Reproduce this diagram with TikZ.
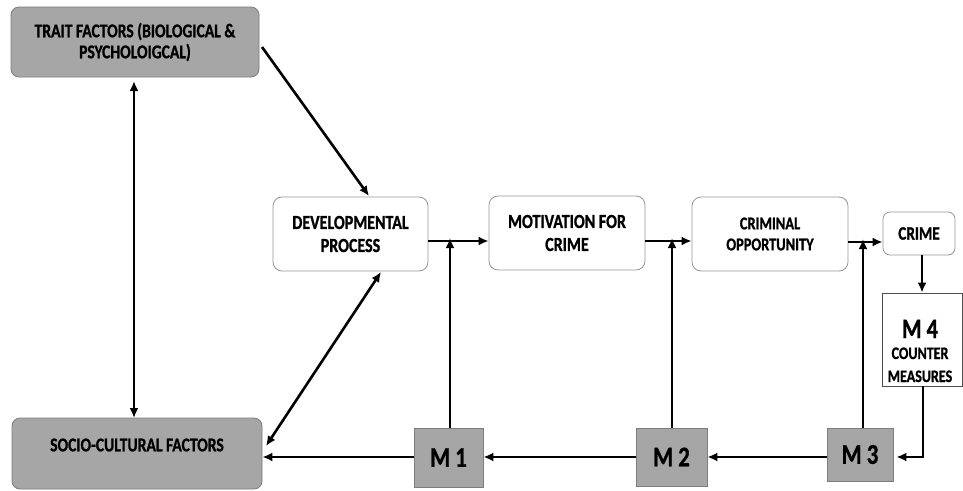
\documentclass[tikz,border=0pt]{standalone}
\usepackage{fontspec}
\setmainfont{Carlito}[BoldFont={Carlito Bold}, FakeStretch=0.8, BoldFeatures={FakeBold=1}]
\usetikzlibrary{arrows.meta}
\definecolor{boxgray}{RGB}{166,166,166}
\definecolor{edgegray}{RGB}{125,125,125}
\definecolor{lightedge}{RGB}{150,150,150}
\tikzset{
  graybox/.style={draw=edgegray, fill=boxgray, rounded corners=8pt, line width=0.8pt, align=center, font=\bfseries\fontsize{19.5}{21}\selectfont, inner sep=0pt},
  whitebox/.style={draw=lightedge, fill=white, rounded corners=9pt, line width=0.8pt, align=center, font=\bfseries\fontsize{20}{23}\selectfont, inner sep=0pt},
  mbox/.style={draw=edgegray, fill=boxgray, line width=0.8pt, align=center, font=\bfseries\fontsize{28.5}{30}\selectfont, inner sep=0pt},
  conn/.style={draw=black, line width=2.6pt, -{Latex[length=10pt,width=9pt]}},
  dconn/.style={draw=black, line width=2.6pt, {Latex[length=10pt,width=9pt]}-{Latex[length=10pt,width=9pt]}},
  mtext/.style={anchor=base, inner sep=0pt, font=\bfseries\fontsize{17.5}{19}\selectfont}
}
\begin{document}
\begin{tikzpicture}[x=1pt,y=-1pt]
\useasboundingbox (0,0) rectangle (963,490);
% boxes
\node[graybox, minimum width=248pt, minimum height=70pt] (trait) at (135,42) {TRAIT FACTORS (BIOLOGICAL \&\\PSYCHOLOIGCAL)};
\node[graybox, minimum width=250pt, minimum height=71pt] (socio) at (137,453.5) {};
\node[font=\bfseries\fontsize{19.5}{21}\selectfont] (sociot) at (137,445) {SOCIO-CULTURAL FACTORS};
\node[whitebox, minimum width=155pt, minimum height=74pt] (dev) at (350.5,234) {DEVELOPMENTAL\\PROCESS};
\node[whitebox, minimum width=156pt, minimum height=74pt] (mot) at (567,233) {MOTIVATION FOR\\CRIME};
\node[whitebox, minimum width=156pt, minimum height=74pt, font=\bfseries\fontsize{18}{21}\selectfont] (crim) at (770,234) {CRIMINAL\\OPPORTUNITY};
\node[whitebox, minimum width=72pt, minimum height=43pt, rounded corners=7pt, font=\bfseries\fontsize{19}{21}\selectfont] (crime) at (919,233.5) {CRIME};
\node[draw=black!70, fill=white, line width=0.8pt, minimum width=80pt, minimum height=93pt, inner sep=0pt] (m4) at (922,339.5) {};
\node[mtext, font=\bfseries\fontsize{28}{30}\selectfont] (m4a) at (920,338) {M 4};
\node[mtext] (m4b) at (920,359) {COUNTER};
\node[mtext] (m4c) at (920,382) {MEASURES};
\node[mbox, minimum width=66pt, minimum height=53pt] (m3) at (860,454.5) {M 3};
\node[mbox, minimum width=71pt, minimum height=58pt] (m2) at (671.5,457) {M 2};
\node[mbox, minimum width=69pt, minimum height=59pt] (m1) at (448.5,457.5) {M 1};
% junction coordinates
\coordinate (j1) at (450,241);
\coordinate (j2) at (672,241);
\coordinate (j3) at (863,242);
\coordinate (tr1) at (262,47);
\coordinate (dv1) at (369,196);
\coordinate (dv2) at (381,272);
\coordinate (so1) at (266,446);
\coordinate (t1) at (134,81);
\coordinate (s1) at (134,418);
\coordinate (c4) at (923,457);
% connectors
\draw[dconn] (t1) -- (s1);
\draw[conn] (tr1) -- (dv1);
\draw[dconn] (dv2) -- (so1);
\draw[conn] (dev.east |- j1) -- (mot.west |- j1);
\draw[conn] (mot.east |- j2) -- (crim.west |- j2);
\draw[conn] (crim.east |- j3) -- (crime.west |- j3);
\draw[conn] (m1.north -| j1) -- ([yshift=3pt]j1);
\draw[conn] (m2.north -| j2) -- ([yshift=3pt]j2);
\draw[conn] (m3.north -| j3) -- ([yshift=3pt]j3);
\draw[conn] (crime.south -| m4) -- (m4.north);
\draw[conn] (m4.south -| c4) -- (c4) -- ([xshift=3pt]m3.east |- c4);
\draw[conn] (m3.west |- c4) -- (m2.east |- c4);
\draw[conn] (m2.west |- c4) -- (m1.east |- c4);
\draw[conn] (m1.west |- c4) -- (socio.east |- c4);
\end{tikzpicture}
\end{document}
